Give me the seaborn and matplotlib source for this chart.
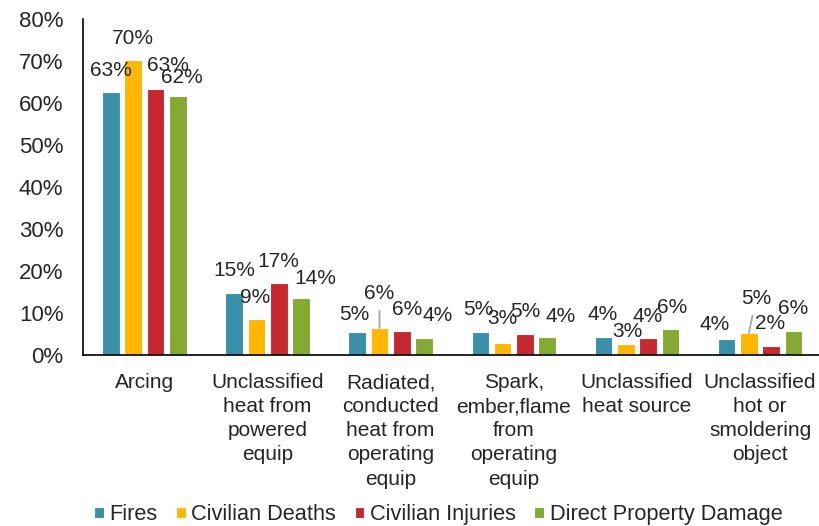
import pandas as pd
import matplotlib.pyplot as plt
import seaborn as sns

categories = [
    "Arcing",
    "Unclassified\nheat from\npowered\nequip",
    "Radiated,\nconducted\nheat from\noperating\nequip",
    "Spark,\nember,flame\nfrom\noperating\nequip",
    "Unclassified\nheat source",
    "Unclassified\nhot or\nsmoldering\nobject",
]
series = ["Fires", "Civilian Deaths", "Civilian Injuries", "Direct Property Damage"]
fires = [62.6, 14.8, 5.4, 5.4, 4.3, 3.8]
deaths = [70.2, 8.6, 6.4, 2.9, 2.6, 5.2]
injuries = [63.4, 17.1, 5.7, 5.0, 4.0, 2.1]
damage = [61.7, 13.6, 4.0, 4.3, 6.2, 5.7]
colors = ["#3A90A8", "#FFB700", "#C5282E", "#84AA33"]

# label nudges in pixels (dx, dy above bar top to baseline), per (category, series)
label_pos = {
    (0, 0): (0, 16), (0, 1): (0, 16), (0, 2): (12, 18), (0, 3): (4, 13),
    (1, 0): (0, 17), (1, 1): (-1, 16), (1, 2): (0, 16), (1, 3): (14, 14),
    (2, 0): (-3, 12), (2, 1): (0, 29), (2, 2): (5, 16), (2, 3): (13, 17),
    (3, 0): (-2, 17), (3, 1): (0, 19), (3, 2): (0, 17), (3, 3): (13, 15),
    (4, 0): (-1, 17), (4, 1): (2, 7), (4, 2): (0, 16), (4, 3): (2, 16),
    (5, 0): (-12, 9), (5, 1): (7, 29), (5, 2): (-1, 17), (5, 3): (0, 17),
}
leader = [(2, 1), (5, 1)]

df = pd.DataFrame({
    "category": categories * 4,
    "series": [s for s in series for _ in categories],
    "value": fires + deaths + injuries + damage,
})

sns.set_style("white")
plt.rcParams["font.family"] = ["Liberation Sans", "DejaVu Sans"]

fig = plt.figure(figsize=(8.2, 5.26), dpi=100)
ax = fig.add_axes([0.101, 0.325, 0.901, 0.639])
sns.barplot(data=df, x="category", y="value", hue="series", palette=colors,
            saturation=1, width=0.725, gap=0.21, edgecolor="white", linewidth=0.8, ax=ax)

for si, cont in enumerate(ax.containers):
    for ci, bar in enumerate(cont):
        v = bar.get_height()
        x = bar.get_x() + bar.get_width() / 2
        dx, dy = label_pos[(ci, si)]
        arrow = None
        if (ci, si) in leader:
            arrow = dict(arrowstyle="-", color="#A6A6A6", lw=1.3, shrinkA=3, shrinkB=0)
        ax.annotate(f"{round(v):.0f}%", (x, v), xytext=(dx, dy), textcoords="offset pixels",
                    ha="center", va="baseline", fontsize=15, arrowprops=arrow)

ax.set_ylim(0, 80)
ax.set_yticks(range(0, 81, 10))
ax.set_yticklabels([f"{t}%" for t in range(0, 81, 10)], fontsize=16)
ax.tick_params(axis="x", labelsize=15, pad=13, length=0)
ax.tick_params(axis="y", length=0, pad=14)
for lbl in ax.get_xticklabels():
    lbl.set_linespacing(1.34)
ax.set_xlabel("")
ax.set_ylabel("")
sns.despine(ax=ax)
for side in ["left", "bottom"]:
    ax.spines[side].set_color("black")
    ax.spines[side].set_linewidth(1.2)

ax.legend(loc="lower center", bbox_to_anchor=(0.481, -0.565), ncol=4, frameon=False,
          fontsize=15.7, handlelength=0.45, handleheight=0.45, handletextpad=0.25,
          columnspacing=0.85)

fig.savefig("out.png", dpi=100)
